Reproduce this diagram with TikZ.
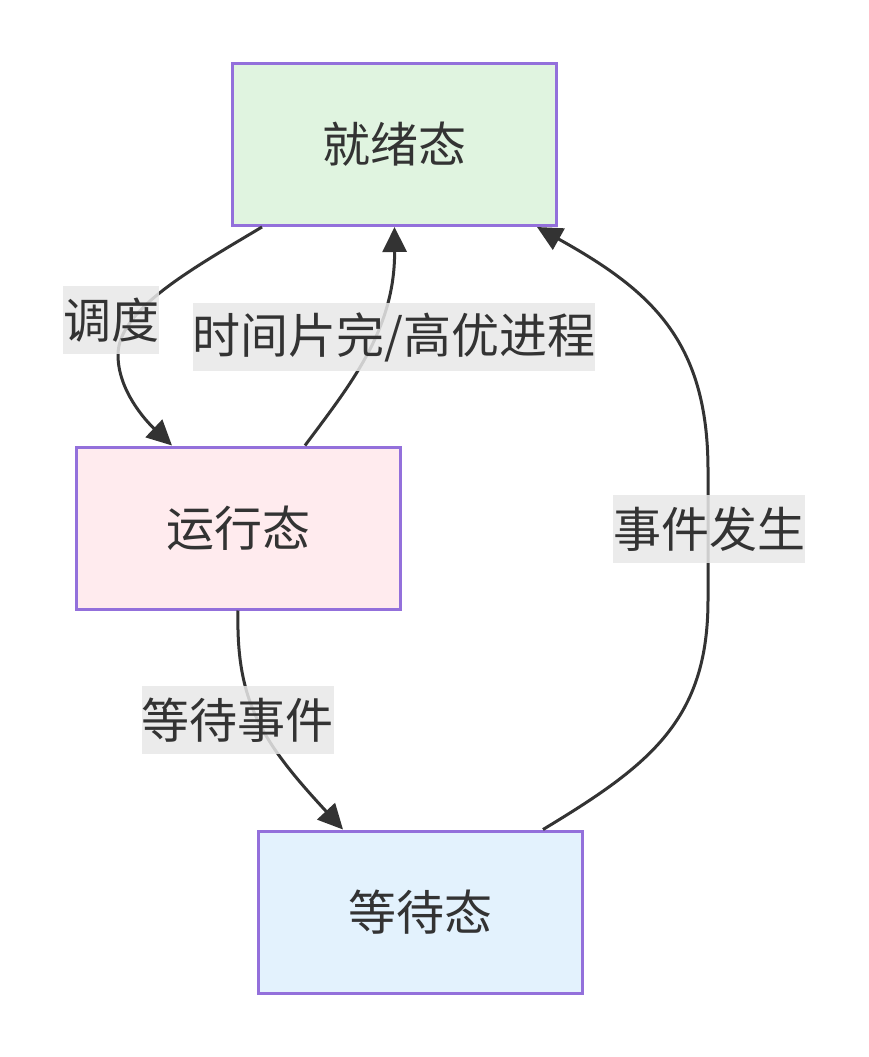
\documentclass[tikz,border=0pt]{standalone}
\usepackage{fontspec}
\setmainfont{Noto Sans CJK SC}
\usepackage{tikz}
\usetikzlibrary{arrows.meta,calc}

\definecolor{stateline}{HTML}{9370DB}
\definecolor{readyfill}{HTML}{E0F4E0}
\definecolor{runfill}{HTML}{FFEBEE}
\definecolor{waitfill}{HTML}{E3F2FD}
\definecolor{edgeline}{HTML}{333333}
\definecolor{labelfill}{HTML}{E8E8E8}

\tikzset{
  statebox/.style={draw=stateline, line width=3pt, minimum width=324pt,
    minimum height=162pt, inner sep=0pt, text=edgeline,
    font=\fontsize{48}{57}\selectfont},
  edgelabel/.style={fill=labelfill, fill opacity=0.85, text opacity=1,
    text=edgeline, inner xsep=0pt, inner ysep=0pt, minimum height=68pt,
    font=\fontsize{48}{57}\selectfont},
  flow/.style={draw=edgeline, line width=3pt,
    -{Triangle[length=25pt,width=24pt]}}
}

\begin{document}
\begin{tikzpicture}[x=1pt,y=-1pt]
\useasboundingbox (0,0) rectangle (868,1057);
% states
\node[statebox, fill=readyfill] (ready) at (394.5,144.5) {就绪态};
\node[statebox, fill=runfill] (run) at (238,528) {运行态};
\node[statebox, fill=waitfill] (wait) at (420,912) {等待态};
% transitions
\draw[flow] ([xshift=-132.5pt]ready.south) .. controls (190,270) and (118,310) .. (118,355)
  .. controls (118,390) and (145,420) .. ([xshift=-66pt]run.north);
\draw[flow] ([xshift=67pt]run.north) .. controls (350,385) and (395,330) .. (ready.south);
\draw[flow] (run.south) .. controls (236,700) and (260,740) .. ([xshift=-77pt]wait.north);
\draw[flow] ([xshift=123pt]wait.north) .. controls (650,765) and (708,720) .. (708,600)
  -- (708,470) .. controls (708,340) and (650,290) .. ([xshift=142.5pt]ready.south);
% labels
\node[edgelabel] (schedule) at (111,320) {调度};
\node[edgelabel] (timeout) at (394,337) {时间片完/高优进程};
\node[edgelabel] (waitev) at (237.5,720) {等待事件};
\node[edgelabel] (evdone) at (709,529) {事件发生};
\end{tikzpicture}
\end{document}
